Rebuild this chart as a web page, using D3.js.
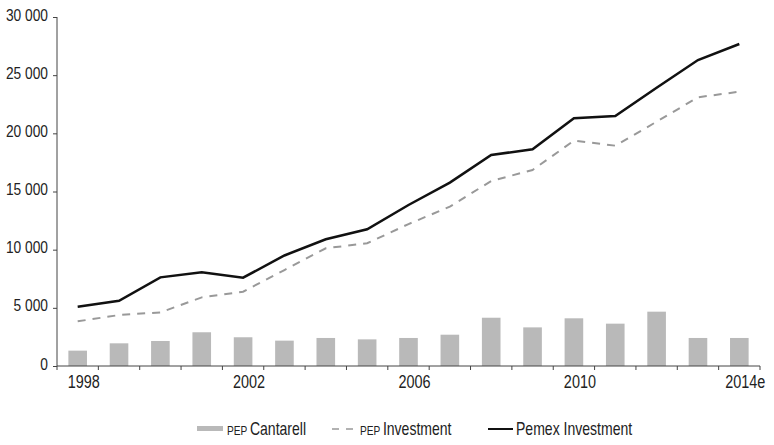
<!DOCTYPE html>
<html>
<head>
<meta charset="utf-8">
<script src="https://cdn.jsdelivr.net/npm/d3@7"></script>
<style>
  body { margin: 0; background: #fff; }
  svg { display: block; font-family: "Liberation Sans", Arial, sans-serif; }
  .axis path, .axis line { stroke: #444; }
  .axis text { fill: #222; }
</style>
</head>
<body>
<svg id="chart" width="774" height="445"></svg>
<script>
var years = ["1998", "1999", "2000", "2001", "2002", "2003", "2004", "2005",
             "2006", "2007", "2008", "2009", "2010", "2011", "2012", "2013", "2014e"];
var tickYears = ["1998", "2002", "2006", "2010", "2014e"];
var yTicks = [0, 5000, 10000, 15000, 20000, 25000, 30000];

var pepCantarell = [1320, 1950, 2150, 2900, 2470, 2180, 2410, 2290, 2410, 2690,
                    4150, 3320, 4100, 3640, 4670, 2410, 2410];
var pepInvestment = [3840, 4380, 4610, 5900, 6390, 8250, 10120, 10550, 12200, 13700,
                     15900, 16850, 19370, 18940, 21000, 23100, 23580];
var pemexInvestment = [5100, 5600, 7620, 8050, 7590, 9500, 10890, 11750, 13840, 15760,
                       18140, 18630, 21290, 21490, 23920, 26300, 27680];

var svg = d3.select("#chart");

var LEFT = 57, RIGHT = 760, TOP = 17, BOTTOM = 366;

// squeeze text horizontally to mimic the condensed face of the original
function squeeze(sel, sx, anchorX, anchorY) {
  sel.attr("transform", "translate(" + anchorX + "," + anchorY + ") scale(" + sx + ",1)")
    .attr("x", 0).attr("y", 0);
}

// ── Scales ───────────────────────────────────────────────────────
var x = d3.scaleBand().domain(years).range([LEFT, RIGHT]).paddingInner(0.55).paddingOuter(0.275);
var xTick = d3.scaleBand().domain(years).range([LEFT, RIGHT]);
var y = d3.scaleLinear().domain([0, 30000]).range([BOTTOM, TOP]);

var fmt = function (d) { return d === 0 ? "0" : d3.format(",")(d).replace(",", " "); };

// ── Bars ─────────────────────────────────────────────────────────
svg.append("g")
  .selectAll("rect")
  .data(pepCantarell)
  .enter()
  .append("rect")
  .attr("x", function (d, i) { return x(years[i]); })
  .attr("width", x.bandwidth())
  .attr("y", function (d) { return y(d); })
  .attr("height", function (d) { return y(0) - y(d); })
  .attr("fill", "#b9b9b9");

// ── Axes ─────────────────────────────────────────────────────────
var yAxis = svg.append("g")
  .attr("class", "axis")
  .attr("transform", "translate(" + LEFT + ",0)")
  .call(d3.axisLeft(y).tickValues(yTicks).tickFormat(fmt).tickSize(4));
yAxis.selectAll("text")
  .attr("font-size", 16)
  .attr("dy", "0.25em")
  .each(function () { squeeze(d3.select(this), 0.86, -9, -1); });
yAxis.select(".domain").attr("d", "M0," + TOP + "V" + BOTTOM);

var xAxis = svg.append("g")
  .attr("class", "axis")
  .attr("transform", "translate(0," + BOTTOM + ")");
xAxis.append("line")
  .attr("x1", LEFT).attr("x2", RIGHT)
  .attr("stroke", "#444");
xAxis.selectAll(".tk")
  .data(years.concat(["end"]))
  .enter()
  .append("line")
  .attr("class", "tk")
  .attr("x1", function (d, i) { return LEFT + i * xTick.step(); })
  .attr("x2", function (d, i) { return LEFT + i * xTick.step(); })
  .attr("y1", 0).attr("y2", 4)
  .attr("stroke", "#444");
xAxis.selectAll("text")
  .data(tickYears)
  .enter()
  .append("text")
  .attr("text-anchor", "middle")
  .attr("font-size", 19)
  .attr("fill", "#222")
  .text(function (d) { return d; })
  .each(function (d) {
    squeeze(d3.select(this), 0.76, xTick(d) + xTick.bandwidth() / 2 + 6, 22);
  });

// ── Lines ────────────────────────────────────────────────────────
var line = d3.line()
  .x(function (d, i) { return x(years[i]) + x.bandwidth() / 2; })
  .y(function (d) { return y(d); });

svg.append("path")
  .datum(pepInvestment)
  .attr("d", line)
  .attr("fill", "none")
  .attr("stroke", "#999")
  .attr("stroke-width", 2)
  .attr("stroke-dasharray", "8,7");

svg.append("path")
  .datum(pemexInvestment)
  .attr("d", line)
  .attr("fill", "none")
  .attr("stroke", "#111")
  .attr("stroke-width", 2.5);

// ── Legend ───────────────────────────────────────────────────────
var legend = svg.append("g").attr("font-size", 18).attr("fill", "#222");
var LY = 429;

legend.append("rect").attr("x", 197).attr("y", LY - 3).attr("width", 26).attr("height", 5).attr("fill", "#b9b9b9");
var t1 = legend.append("text");
t1.append("tspan").attr("font-size", 13).text("PEP ");
t1.append("tspan").text("Cantarell");
squeeze(t1, 0.78, 227, LY + 6);

legend.append("line").attr("x1", 332).attr("x2", 353).attr("y1", LY).attr("y2", LY)
  .attr("stroke", "#999").attr("stroke-width", 1.5).attr("stroke-dasharray", "7,7");
var t2 = legend.append("text");
t2.append("tspan").attr("font-size", 13).text("PEP ");
t2.append("tspan").text("Investment");
squeeze(t2, 0.78, 360, LY + 6);

legend.append("line").attr("x1", 488).attr("x2", 513).attr("y1", LY).attr("y2", LY)
  .attr("stroke", "#111").attr("stroke-width", 2);
var t3 = legend.append("text").text("Pemex Investment");
squeeze(t3, 0.78, 516, LY + 6);
</script>
</body>
</html>
